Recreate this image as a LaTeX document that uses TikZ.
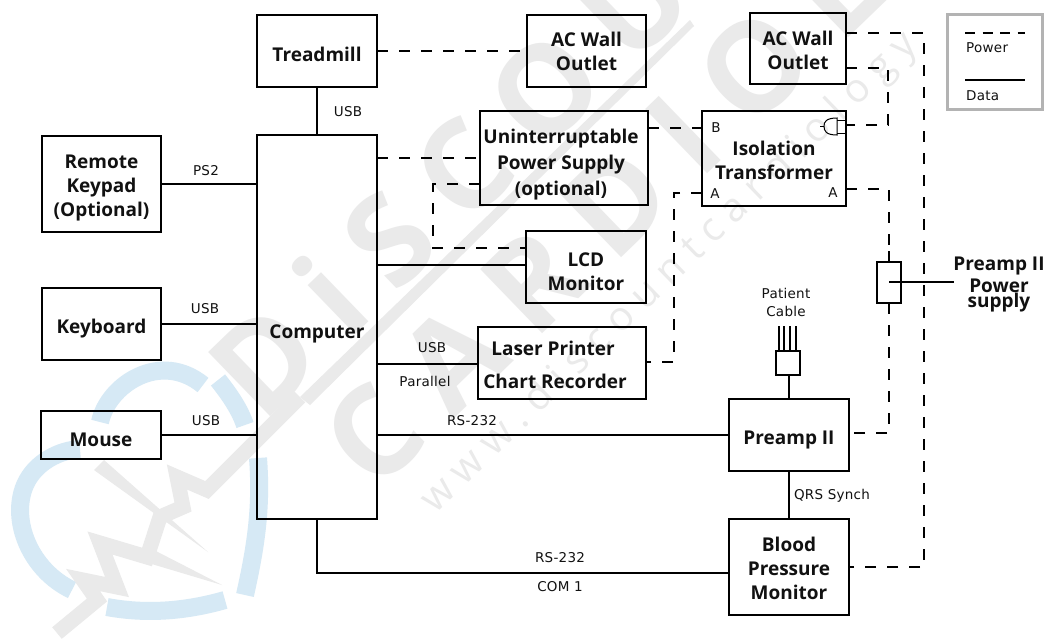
\documentclass[tikz,border=0pt]{standalone}
\usepackage{fontspec}
\setmainfont{Open Sans}
\newfontfamily\wmfont[LetterSpace=22]{Open Sans}
\newfontfamily\wmsmall[LetterSpace=26]{Open Sans}
\newfontfamily\smallfont[LetterSpace=2]{DejaVu Sans}
\definecolor{wmgray}{HTML}{EAEAEA}
\definecolor{wmblue}{HTML}{D6E9F5}
\definecolor{ink}{HTML}{111111}
\definecolor{legendgray}{HTML}{B3B3B3}
\tikzset{
  x=1pt,y=-1pt,
  box/.style={draw=black,line width=2pt,fill=none,inner sep=0pt,outer sep=0pt,text=ink,font=\bfseries\fontsize{19}{24}\selectfont},
  lab/.style={inner sep=0pt,text=ink,font=\smallfont\fontsize{13.5}{18}\selectfont,align=center},
  big/.style={inner sep=0pt,text=ink,font=\bfseries\fontsize{19}{24}\selectfont,align=center},
  data/.style={draw=black,line width=2pt},
  power/.style={draw=black,line width=2pt,dash pattern=on 11pt off 11pt},
  thin/.style={draw=black,line width=1pt},
  wmark/.style={text=wmgray,inner sep=0pt,rotate=44,anchor=base west},
  heart/.style={draw=wmblue,line width=18pt},
  ecg/.style={draw=wmgray,line width=15pt,line join=miter}
}
% name, x1, y1, x2, y2, downward shift of the text, text
\newcommand{\bx}[7]{\node[box,minimum width=#4pt-#2pt,minimum height=#5pt-#3pt] (#1) at ({(#2+#4)/2},{(#3+#5)/2}) {\raisebox{-#6pt}[0pt][0pt]{\begin{tabular}{@{}c@{}}#7\end{tabular}}};}
\begin{document}
\begin{tikzpicture}
\useasboundingbox (0,0) rectangle (1047,638);
\fill[white] (0,0) rectangle (1047,638);
% watermark
\begin{scope}
\clip (0,0) rectangle (1047,638);
\node[wmark,font=\wmfont\bfseries\fontsize{125}{125}\selectfont] (wmone) at (262,425) {DiSCOU};
\node[wmark,font=\wmfont\bfseries\fontsize{125}{125}\selectfont] (wmtwo) at (375,495) {CARDIOLO};
\node[wmark,font=\wmsmall\fontsize{40}{40}\selectfont] (wmthree) at (435,515) {www.discountcardiology};
\draw[heart] (72,590) .. controls (30,570) and (10,520) .. (25,485) .. controls (35,462) and (60,450) .. (80,449);
\draw[heart] (100,422) .. controls (108,385) and (160,350) .. (203,385);
\draw[heart] (218,380) .. controls (230,395) and (240,410) .. (245,425);
\draw[heart] (258,458) .. controls (262,510) and (255,550) .. (245,595);
\draw[heart] (107,607) .. controls (150,615) and (190,610) .. (225,600);
\draw[ecg] (300,397) -- (207,490) -- (177,477) -- (183,507) -- (160,517) -- (147,557) -- (100,543) -- (117,587) -- (83,580) -- (97,600) -- (57,633);
\fill[wmgray] (300,397) -- (690,20) -- (694,26) -- (310,405) -- cycle;
\fill[wmgray] (94,470) -- (104,460) -- (208,552) -- cycle;
\fill[wmgray] (150,548) -- (222,585) -- (145,562) -- cycle;
\end{scope}
% boxes
\bx{tread}{257}{15}{377}{87}{9.75}{Treadmill}
\bx{aca}{527}{15}{646}{87}{7.25}{AC Wall\\Outlet}
\bx{acb}{750}{13}{846}{84}{8.25}{AC Wall\\Outlet}
\node[box,minimum width=168pt,minimum height=94pt] (ups) at (564,158) {\kern-6pt\raisebox{-10.75pt}[0pt][0pt]{\begin{tabular}{@{}c@{}}Uninterruptable\\[2pt]Power Supply\\[2pt](optional)\end{tabular}}};
\bx{iso}{702}{111}{846}{206}{8.75}{Isolation\\Transformer}
\bx{keypad}{42}{136}{161}{232}{7.75}{Remote\\Keypad\\(Optional)}
\bx{kbd}{42}{288}{161}{360}{8.75}{Keyboard}
\bx{mouse}{41}{411}{161}{459}{10.75}{Mouse}
\bx{comp}{257}{135}{377}{519}{10.75}{Computer}
\bx{lcd}{526}{231}{646}{303}{10.75}{LCD\\Monitor}
\bx{printer}{478}{327}{646}{399}{0}{}
\bx{preamp}{729}{399}{849}{471}{8.75}{Preamp II}
\bx{bp}{729}{519}{849}{615}{7.75}{Blood\\Pressure\\Monitor}
\bx{cabbox}{776}{351}{800}{375}{0}{}
\bx{psbox}{877}{262}{901}{303}{0}{}
\node[draw=legendgray,line width=3pt,minimum width=95pt,minimum height=95pt,inner sep=0pt,outer sep=0pt] (legend) at (995,62) {};
% printer text
\node[big] (lasertxt) at (553,348) {Laser Printer};
\node[big] (charttxt) at (555,381) {Chart Recorder};
% power supply label
\node[big] (pstxta) at (999,266) {Preamp II};
\node[big] (pstxtb) at (999,286) {Power};
\node[big] (pstxtc) at (999,303) {supply};
% patient cable
\node[lab] (pattxt) at (786,302) {Patient\\Cable};
% data connectors
\draw[data] (tread.south) -- (comp.north);
\draw[data] (keypad.east) -- (comp.west |- keypad.east);
\draw[data] (kbd.east) -- (comp.west |- kbd.east);
\draw[data] (mouse.east) -- (comp.west |- mouse.east);
\draw[data] (comp.east |- 0,265) -- (lcd.west |- 0,265);
\draw[data] (comp.east |- 0,364) -- (printer.west |- 0,364);
\draw[data] (comp.east |- 0,435) -- (preamp.west |- 0,435);
\draw[data] (preamp.south) -- (bp.north);
\draw[data] (cabbox.south -| preamp.north) -- (preamp.north);
\draw[data] (comp.south -| 317,0) -- (317,573) -- (bp.west |- 0,573);
\coordinate (psin) at (889,282);
\coordinate (pslead) at (954,282);
\draw[data] (psin) -- (pslead);
\draw[data] (psbox.north) -- ++(0,-11);
% patient leads
\foreach \lx/\lname in {779/a,784/b,790/c,796/d}{
  \coordinate (lead\lname) at (\lx,326);
  \draw[data,line width=1.5pt] (lead\lname) -- (lead\lname |- cabbox.north);
}
% power connectors
\draw[power] (tread.east) -- (aca.west);
\draw[power] (comp.east |- 0,158) -- (ups.west |- 0,158);
\draw[power] (ups.west |- 0,184) -- (433,184) -- (433,248) -- (lcd.west |- 0,248);
\draw[power] (ups.east |- 0,128) -- (iso.west |- 0,128);
\draw[power] (iso.west |- 0,193) -- (674,193) -- (674,362) -- (printer.east |- 0,362);
\draw[power] (iso.east |- 0,189) -- (889,189) -- (psbox.north);
\draw[power] (psbox.south) -- (889,433) -- (preamp.east |- 0,433);
\draw[power] (acb.east |- 0,33) -- (924,33) -- (924,567) -- (bp.east |- 0,567);
\draw[power] (acb.east |- 0,68) -- (888,68) -- (888,125) -- (iso.east |- 0,125);
% plug symbol
\draw[thin] (820,126) -- (824,126);
\draw[thin] (837,118) .. controls (826,118) and (824,122) .. (824,126) .. controls (824,131) and (826,135) .. (837,135) -- cycle;
\draw[thin] (837,120) -- (845,120);
\draw[thin] (837,133) -- (845,133);
% labels
\node[lab] (l1) at (348,112) {USB};
\node[lab] (l2) at (206,171) {PS2};
\node[lab] (l3) at (205,309) {USB};
\node[lab] (l4) at (206,421) {USB};
\node[lab] (l5) at (432,348) {USB};
\node[lab] (l6) at (425,381) {Parallel};
\node[lab] (l7) at (472,421) {RS-232};
\node[lab] (l8) at (832,496) {QRS Synch};
\node[lab] (l9) at (560,558) {RS-232};
\node[lab] (l10) at (560,587) {COM 1};
\node[lab] (lb) at (716,128) {B};
\node[lab] (la1) at (715,194) {A};
\node[lab] (la2) at (833,193) {A};
% legend
\coordinate (lega) at (965,33);\coordinate (legb) at (1025,33);
\coordinate (legc) at (965,80);\coordinate (legd) at (1025,80);
\draw[power,dash pattern=on 10pt off 7.5pt] (lega) -- (legb);
\draw[data] (legc) -- (legd);
\node[lab,anchor=west] (lp) at (966,48) {Power};
\node[lab,anchor=west] (ld) at (966,96) {Data};
\end{tikzpicture}
\end{document}
